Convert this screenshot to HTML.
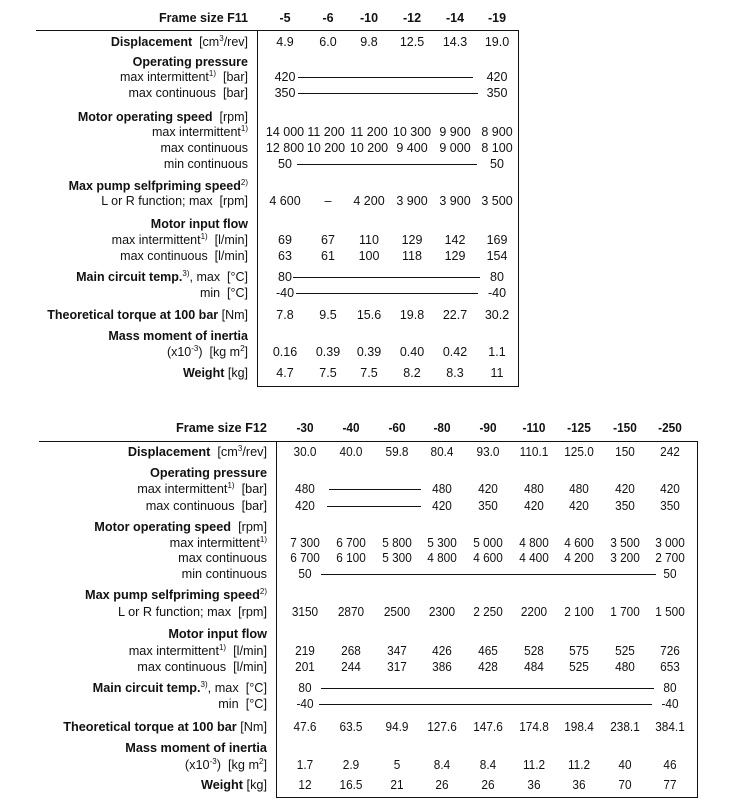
<!DOCTYPE html>
<html><head><meta charset="utf-8"><style>
body{margin:0;background:#fff;width:750px;height:804px;position:relative;overflow:hidden;font-family:"Liberation Sans",Arial,sans-serif;color:#111}
div{position:absolute;white-space:nowrap;line-height:16px}
.a{font-size:12.5px}
.b{font-size:12.7px}
.r1{right:502px;text-align:right}
.r2{right:483px;text-align:right}
.c{transform:translateX(-50%)}
.b.c{transform:translateX(-50%) scaleX(0.93)}
b{font-weight:bold}
sup{font-size:8px;vertical-align:5px;line-height:0}
.hl{background:#111;height:1px}
.vl{background:#111;width:1px}
</style></head><body>
<!-- TABLE 1 -->
<div class="hl" style="left:36px;top:30px;width:483px"></div>
<div class="vl" style="left:257px;top:30px;height:357px"></div>
<div class="vl" style="left:518px;top:30px;height:357px"></div>
<div class="hl" style="left:257px;top:386px;width:262px"></div>

<div class="a r1" style="top:10px"><b>Frame size F11</b></div>
<div class="a c" style="left:285px;top:10px"><b>-5</b></div>
<div class="a c" style="left:328px;top:10px"><b>-6</b></div>
<div class="a c" style="left:369px;top:10px"><b>-10</b></div>
<div class="a c" style="left:412px;top:10px"><b>-12</b></div>
<div class="a c" style="left:455px;top:10px"><b>-14</b></div>
<div class="a c" style="left:497px;top:10px"><b>-19</b></div>

<div class="a r1" style="top:34px"><b>Displacement</b>&nbsp; [cm<sup>3</sup>/rev]</div>
<div class="a c" style="left:285px;top:34px">4.9</div>
<div class="a c" style="left:328px;top:34px">6.0</div>
<div class="a c" style="left:369px;top:34px">9.8</div>
<div class="a c" style="left:412px;top:34px">12.5</div>
<div class="a c" style="left:455px;top:34px">14.3</div>
<div class="a c" style="left:497px;top:34px">19.0</div>

<div class="a r1" style="top:54px"><b>Operating pressure</b></div>
<div class="a r1" style="top:69px">max intermittent<sup>1)</sup>&nbsp; [bar]</div>
<div class="a c" style="left:285px;top:69px">420</div>
<div class="hl" style="left:298px;top:77px;width:175px"></div>
<div class="a c" style="left:497px;top:69px">420</div>
<div class="a r1" style="top:85px">max continuous&nbsp; [bar]</div>
<div class="a c" style="left:285px;top:85px">350</div>
<div class="hl" style="left:298px;top:93px;width:180px"></div>
<div class="a c" style="left:497px;top:85px">350</div>

<div class="a r1" style="top:109px"><b>Motor operating speed</b>&nbsp; [rpm]</div>
<div class="a r1" style="top:124px">max intermittent<sup>1)</sup></div>
<div class="a c" style="left:285px;top:124px">14 000</div>
<div class="a c" style="left:326px;top:124px">11 200</div>
<div class="a c" style="left:369px;top:124px">11 200</div>
<div class="a c" style="left:412px;top:124px">10 300</div>
<div class="a c" style="left:455px;top:124px">9 900</div>
<div class="a c" style="left:497px;top:124px">8 900</div>
<div class="a r1" style="top:140px">max continuous</div>
<div class="a c" style="left:285px;top:140px">12 800</div>
<div class="a c" style="left:326px;top:140px">10 200</div>
<div class="a c" style="left:369px;top:140px">10 200</div>
<div class="a c" style="left:412px;top:140px">9 400</div>
<div class="a c" style="left:455px;top:140px">9 000</div>
<div class="a c" style="left:497px;top:140px">8 100</div>
<div class="a r1" style="top:156px">min continuous</div>
<div class="a c" style="left:285px;top:156px">50</div>
<div class="hl" style="left:297px;top:164px;width:180px"></div>
<div class="a c" style="left:497px;top:156px">50</div>

<div class="a r1" style="top:178px"><b>Max pump selfpriming speed</b><sup>2)</sup></div>
<div class="a r1" style="top:193px">L or R function; max&nbsp; [rpm]</div>
<div class="a c" style="left:285px;top:193px">4 600</div>
<div class="a c" style="left:328px;top:193px">–</div>
<div class="a c" style="left:369px;top:193px">4 200</div>
<div class="a c" style="left:412px;top:193px">3 900</div>
<div class="a c" style="left:455px;top:193px">3 900</div>
<div class="a c" style="left:497px;top:193px">3 500</div>

<div class="a r1" style="top:216px"><b>Motor input flow</b></div>
<div class="a r1" style="top:232px">max intermittent<sup>1)</sup>&nbsp; [l/min]</div>
<div class="a c" style="left:285px;top:232px">69</div>
<div class="a c" style="left:328px;top:232px">67</div>
<div class="a c" style="left:369px;top:232px">110</div>
<div class="a c" style="left:412px;top:232px">129</div>
<div class="a c" style="left:455px;top:232px">142</div>
<div class="a c" style="left:497px;top:232px">169</div>
<div class="a r1" style="top:248px">max continuous&nbsp; [l/min]</div>
<div class="a c" style="left:285px;top:248px">63</div>
<div class="a c" style="left:328px;top:248px">61</div>
<div class="a c" style="left:369px;top:248px">100</div>
<div class="a c" style="left:412px;top:248px">118</div>
<div class="a c" style="left:455px;top:248px">129</div>
<div class="a c" style="left:497px;top:248px">154</div>

<div class="a r1" style="top:269px"><b>Main circuit temp.</b><sup>3)</sup>, max&nbsp; [°C]</div>
<div class="a c" style="left:285px;top:269px">80</div>
<div class="hl" style="left:293px;top:277px;width:187px"></div>
<div class="a c" style="left:497px;top:269px">80</div>
<div class="a r1" style="top:285px">min&nbsp; [°C]</div>
<div class="a c" style="left:285px;top:285px">-40</div>
<div class="hl" style="left:296px;top:293px;width:182px"></div>
<div class="a c" style="left:497px;top:285px">-40</div>

<div class="a r1" style="top:307px"><b>Theoretical torque at 100 bar</b> [Nm]</div>
<div class="a c" style="left:285px;top:307px">7.8</div>
<div class="a c" style="left:328px;top:307px">9.5</div>
<div class="a c" style="left:369px;top:307px">15.6</div>
<div class="a c" style="left:412px;top:307px">19.8</div>
<div class="a c" style="left:455px;top:307px">22.7</div>
<div class="a c" style="left:497px;top:307px">30.2</div>

<div class="a r1" style="top:328px"><b>Mass moment of inertia</b></div>
<div class="a r1" style="top:344px">(x10<sup>-3</sup>)&nbsp; [kg m<sup>2</sup>]</div>
<div class="a c" style="left:285px;top:344px">0.16</div>
<div class="a c" style="left:328px;top:344px">0.39</div>
<div class="a c" style="left:369px;top:344px">0.39</div>
<div class="a c" style="left:412px;top:344px">0.40</div>
<div class="a c" style="left:455px;top:344px">0.42</div>
<div class="a c" style="left:497px;top:344px">1.1</div>
<div class="a r1" style="top:365px"><b>Weight</b> [kg]</div>
<div class="a c" style="left:285px;top:365px">4.7</div>
<div class="a c" style="left:328px;top:365px">7.5</div>
<div class="a c" style="left:369px;top:365px">7.5</div>
<div class="a c" style="left:412px;top:365px">8.2</div>
<div class="a c" style="left:455px;top:365px">8.3</div>
<div class="a c" style="left:497px;top:365px">11</div>

<!-- TABLE 2 -->
<div class="hl" style="left:39px;top:441px;width:659px"></div>
<div class="vl" style="left:276px;top:441px;height:357px"></div>
<div class="vl" style="left:697px;top:441px;height:357px"></div>
<div class="hl" style="left:276px;top:797px;width:422px"></div>

<div class="b r2" style="top:420px"><b>Frame size F12</b></div>
<div class="b c" style="left:305px;top:420px"><b>-30</b></div>
<div class="b c" style="left:351px;top:420px"><b>-40</b></div>
<div class="b c" style="left:397px;top:420px"><b>-60</b></div>
<div class="b c" style="left:442px;top:420px"><b>-80</b></div>
<div class="b c" style="left:488px;top:420px"><b>-90</b></div>
<div class="b c" style="left:534px;top:420px"><b>-110</b></div>
<div class="b c" style="left:579px;top:420px"><b>-125</b></div>
<div class="b c" style="left:625px;top:420px"><b>-150</b></div>
<div class="b c" style="left:670px;top:420px"><b>-250</b></div>

<div class="b r2" style="top:444px"><b>Displacement</b>&nbsp; [cm<sup>3</sup>/rev]</div>
<div class="b c" style="left:305px;top:444px">30.0</div>
<div class="b c" style="left:351px;top:444px">40.0</div>
<div class="b c" style="left:397px;top:444px">59.8</div>
<div class="b c" style="left:442px;top:444px">80.4</div>
<div class="b c" style="left:488px;top:444px">93.0</div>
<div class="b c" style="left:534px;top:444px">110.1</div>
<div class="b c" style="left:579px;top:444px">125.0</div>
<div class="b c" style="left:625px;top:444px">150</div>
<div class="b c" style="left:670px;top:444px">242</div>

<div class="b r2" style="top:465px"><b>Operating pressure</b></div>
<div class="b r2" style="top:481px">max intermittent<sup>1)</sup>&nbsp; [bar]</div>
<div class="b c" style="left:305px;top:481px">480</div>
<div class="hl" style="left:329px;top:489px;width:92px"></div>
<div class="b c" style="left:442px;top:481px">480</div>
<div class="b c" style="left:488px;top:481px">420</div>
<div class="b c" style="left:534px;top:481px">480</div>
<div class="b c" style="left:579px;top:481px">480</div>
<div class="b c" style="left:625px;top:481px">420</div>
<div class="b c" style="left:670px;top:481px">420</div>
<div class="b r2" style="top:498px">max continuous&nbsp; [bar]</div>
<div class="b c" style="left:305px;top:498px">420</div>
<div class="hl" style="left:327px;top:506px;width:94px"></div>
<div class="b c" style="left:442px;top:498px">420</div>
<div class="b c" style="left:488px;top:498px">350</div>
<div class="b c" style="left:534px;top:498px">420</div>
<div class="b c" style="left:579px;top:498px">420</div>
<div class="b c" style="left:625px;top:498px">350</div>
<div class="b c" style="left:670px;top:498px">350</div>

<div class="b r2" style="top:519px"><b>Motor operating speed</b>&nbsp; [rpm]</div>
<div class="b r2" style="top:535px">max intermittent<sup>1)</sup></div>
<div class="b c" style="left:305px;top:535px">7 300</div>
<div class="b c" style="left:351px;top:535px">6 700</div>
<div class="b c" style="left:397px;top:535px">5 800</div>
<div class="b c" style="left:442px;top:535px">5 300</div>
<div class="b c" style="left:488px;top:535px">5 000</div>
<div class="b c" style="left:534px;top:535px">4 800</div>
<div class="b c" style="left:579px;top:535px">4 600</div>
<div class="b c" style="left:625px;top:535px">3 500</div>
<div class="b c" style="left:670px;top:535px">3 000</div>
<div class="b r2" style="top:550px">max continuous</div>
<div class="b c" style="left:305px;top:550px">6 700</div>
<div class="b c" style="left:351px;top:550px">6 100</div>
<div class="b c" style="left:397px;top:550px">5 300</div>
<div class="b c" style="left:442px;top:550px">4 800</div>
<div class="b c" style="left:488px;top:550px">4 600</div>
<div class="b c" style="left:534px;top:550px">4 400</div>
<div class="b c" style="left:579px;top:550px">4 200</div>
<div class="b c" style="left:625px;top:550px">3 200</div>
<div class="b c" style="left:670px;top:550px">2 700</div>
<div class="b r2" style="top:566px">min continuous</div>
<div class="b c" style="left:305px;top:566px">50</div>
<div class="hl" style="left:321px;top:574px;width:335px"></div>
<div class="b c" style="left:670px;top:566px">50</div>

<div class="b r2" style="top:587px"><b>Max pump selfpriming speed</b><sup>2)</sup></div>
<div class="b r2" style="top:604px">L or R function; max&nbsp; [rpm]</div>
<div class="b c" style="left:305px;top:604px">3150</div>
<div class="b c" style="left:351px;top:604px">2870</div>
<div class="b c" style="left:397px;top:604px">2500</div>
<div class="b c" style="left:442px;top:604px">2300</div>
<div class="b c" style="left:488px;top:604px">2 250</div>
<div class="b c" style="left:534px;top:604px">2200</div>
<div class="b c" style="left:579px;top:604px">2 100</div>
<div class="b c" style="left:625px;top:604px">1 700</div>
<div class="b c" style="left:670px;top:604px">1 500</div>

<div class="b r2" style="top:626px"><b>Motor input flow</b></div>
<div class="b r2" style="top:643px">max intermittent<sup>1)</sup>&nbsp; [l/min]</div>
<div class="b c" style="left:305px;top:643px">219</div>
<div class="b c" style="left:351px;top:643px">268</div>
<div class="b c" style="left:397px;top:643px">347</div>
<div class="b c" style="left:442px;top:643px">426</div>
<div class="b c" style="left:488px;top:643px">465</div>
<div class="b c" style="left:534px;top:643px">528</div>
<div class="b c" style="left:579px;top:643px">575</div>
<div class="b c" style="left:625px;top:643px">525</div>
<div class="b c" style="left:670px;top:643px">726</div>
<div class="b r2" style="top:659px">max continuous&nbsp; [l/min]</div>
<div class="b c" style="left:305px;top:659px">201</div>
<div class="b c" style="left:351px;top:659px">244</div>
<div class="b c" style="left:397px;top:659px">317</div>
<div class="b c" style="left:442px;top:659px">386</div>
<div class="b c" style="left:488px;top:659px">428</div>
<div class="b c" style="left:534px;top:659px">484</div>
<div class="b c" style="left:579px;top:659px">525</div>
<div class="b c" style="left:625px;top:659px">480</div>
<div class="b c" style="left:670px;top:659px">653</div>

<div class="b r2" style="top:680px"><b>Main circuit temp.</b><sup>3)</sup>, max&nbsp; [°C]</div>
<div class="b c" style="left:305px;top:680px">80</div>
<div class="hl" style="left:321px;top:688px;width:333px"></div>
<div class="b c" style="left:670px;top:680px">80</div>
<div class="b r2" style="top:696px">min&nbsp; [°C]</div>
<div class="b c" style="left:305px;top:696px">-40</div>
<div class="hl" style="left:319px;top:704px;width:333px"></div>
<div class="b c" style="left:670px;top:696px">-40</div>

<div class="b r2" style="top:719px"><b>Theoretical torque at 100 bar</b> [Nm]</div>
<div class="b c" style="left:305px;top:719px">47.6</div>
<div class="b c" style="left:351px;top:719px">63.5</div>
<div class="b c" style="left:397px;top:719px">94.9</div>
<div class="b c" style="left:442px;top:719px">127.6</div>
<div class="b c" style="left:488px;top:719px">147.6</div>
<div class="b c" style="left:534px;top:719px">174.8</div>
<div class="b c" style="left:579px;top:719px">198.4</div>
<div class="b c" style="left:625px;top:719px">238.1</div>
<div class="b c" style="left:670px;top:719px">384.1</div>

<div class="b r2" style="top:740px"><b>Mass moment of inertia</b></div>
<div class="b r2" style="top:757px">(x10<sup>-3</sup>)&nbsp; [kg m<sup>2</sup>]</div>
<div class="b c" style="left:305px;top:757px">1.7</div>
<div class="b c" style="left:351px;top:757px">2.9</div>
<div class="b c" style="left:397px;top:757px">5</div>
<div class="b c" style="left:442px;top:757px">8.4</div>
<div class="b c" style="left:488px;top:757px">8.4</div>
<div class="b c" style="left:534px;top:757px">11.2</div>
<div class="b c" style="left:579px;top:757px">11.2</div>
<div class="b c" style="left:625px;top:757px">40</div>
<div class="b c" style="left:670px;top:757px">46</div>
<div class="b r2" style="top:777px"><b>Weight</b> [kg]</div>
<div class="b c" style="left:305px;top:777px">12</div>
<div class="b c" style="left:351px;top:777px">16.5</div>
<div class="b c" style="left:397px;top:777px">21</div>
<div class="b c" style="left:442px;top:777px">26</div>
<div class="b c" style="left:488px;top:777px">26</div>
<div class="b c" style="left:534px;top:777px">36</div>
<div class="b c" style="left:579px;top:777px">36</div>
<div class="b c" style="left:625px;top:777px">70</div>
<div class="b c" style="left:670px;top:777px">77</div>
</body></html>
